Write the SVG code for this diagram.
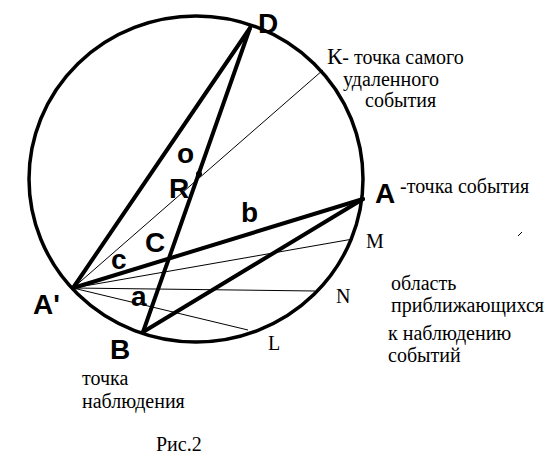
<svg xmlns="http://www.w3.org/2000/svg" width="555" height="456" viewBox="0 0 555 456">
<style>
.thick{stroke:#000;stroke-width:4;fill:none;stroke-linecap:round}
.thin{stroke:#000;stroke-width:1;fill:none}
.lbl{font-family:"Liberation Sans",Arial,sans-serif;font-weight:bold;font-size:28px;fill:#000}
.txt{font-family:"Liberation Serif","Times New Roman",serif;font-size:20px;fill:#000}
</style>
<rect width="555" height="456" fill="#fff"/>
<g id="circle">
<ellipse cx="196" cy="179" rx="167" ry="163" fill="none" stroke="#000" stroke-width="3.5"/>
</g>
<g id="connectors">
<line class="thick" x1="250" y1="28" x2="73" y2="288"/>
<line class="thick" x1="250" y1="28" x2="143" y2="332"/>
<line class="thick" x1="73" y1="288" x2="363" y2="199"/>
<line class="thick" x1="143" y1="332" x2="363" y2="199"/>
<line class="thin" x1="73" y1="288" x2="323" y2="70"/>
<line class="thin" x1="73" y1="288" x2="353" y2="239"/>
<line class="thin" x1="73" y1="288" x2="315" y2="291"/>
<line class="thin" x1="73" y1="288" x2="248" y2="330"/>
<line class="thin" x1="518" y1="236" x2="522" y2="232"/>
</g>
<g id="O"><circle cx="199" cy="174" r="3" fill="#000"/><text class="lbl" x="177" y="163">o</text><text class="lbl" x="169" y="198">R</text></g>
<g id="D"><text class="lbl" x="258" y="33">D</text></g>
<g id="A"><text class="lbl" x="375" y="203">A</text><text class="txt" x="400" y="193">-точка события</text></g>
<g id="A1"><text class="lbl" x="33" y="314">A'</text></g>
<g id="B"><text class="lbl" x="110" y="359">B</text><text class="txt" x="82" y="385">точка</text><text class="txt" x="82" y="408">наблюдения</text></g>
<g id="C"><text class="lbl" x="145" y="252">C</text></g>
<g id="sides"><text class="lbl" x="111" y="269">c</text><text class="lbl" x="131" y="306">a</text><text class="lbl" x="241" y="222">b</text></g>
<g id="K"><text class="txt" x="327" y="64"><tspan font-size="23">К</tspan>- точка самого</text><text class="txt" x="343" y="86">удаленного</text><text class="txt" x="365" y="107">события</text></g>
<g id="M"><text class="txt" x="366" y="248">M</text></g>
<g id="N"><text class="txt" x="336" y="303">N</text></g>
<g id="L"><text class="txt" x="268" y="350">L</text></g>
<g id="region"><text class="txt" x="391" y="290">область</text><text class="txt" x="391" y="312">приближающихся</text><text class="txt" x="388" y="340">к наблюдению</text><text class="txt" x="388" y="362">событий</text></g>
<text class="txt" x="156" y="451">Рис.2</text>
</svg>
